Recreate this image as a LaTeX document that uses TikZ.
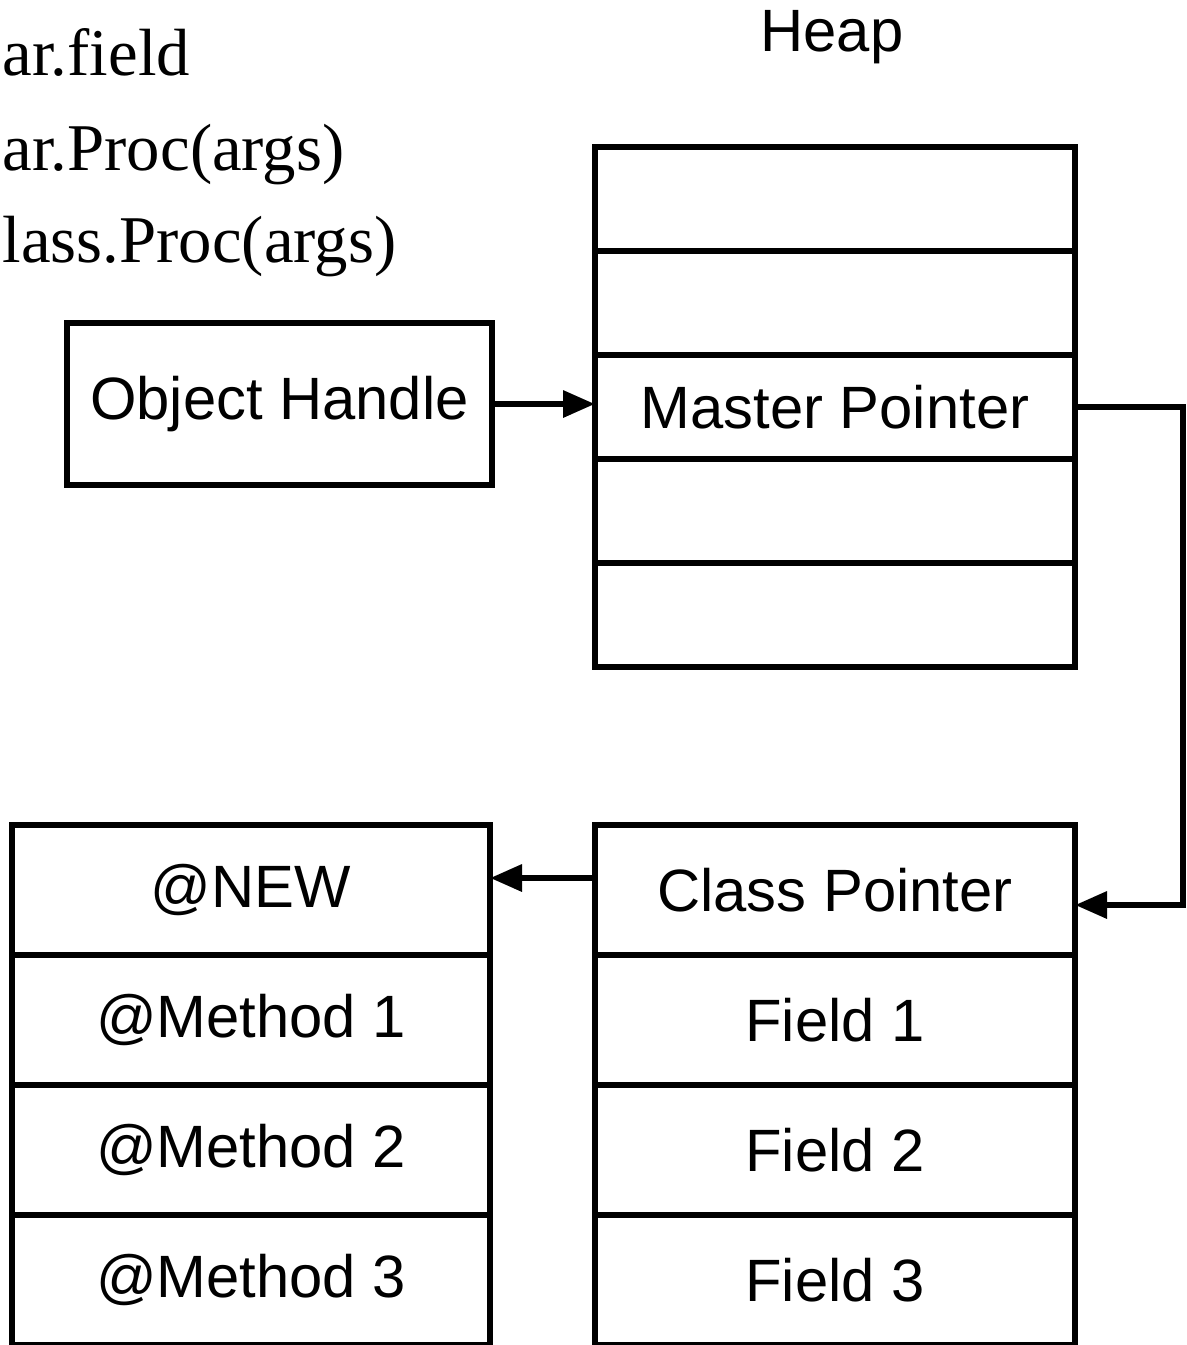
\documentclass[tikz,border=0pt]{standalone}
\usepackage{fontspec}
\setmainfont{Liberation Serif}
\newfontfamily\boxfont{Liberation Sans}
\usetikzlibrary{positioning,arrows.meta}

\tikzset{
  cell/.style={draw, line width=1.8pt, outer sep=0pt, minimum width=4.8cm, minimum height=1.04cm, font=\boxfont\fontsize{17}{20}\selectfont},
  tallcell/.style={cell, minimum height=1.3cm},
  ptr/.style={line width=1.8pt, -{Triangle[length=0.32cm,width=0.26cm]}},
  code/.style={anchor=base west, inner sep=0pt, font=\fontsize{19}{22}\selectfont}
}

\begin{document}
\begin{tikzpicture}
\useasboundingbox (0,0) rectangle (11.86,-13.45);
% source lines
\node[code] (c1) at (0.02,-0.75) {ar.field};
\node[code] (c2) at (0.02,-1.70) {ar.Proc(args)};
\node[code] (c3) at (0.02,-2.62) {lass.Proc(args)};
\node[font=\boxfont\fontsize{17}{20}\selectfont] (heap) at (8.32,-0.37) {Heap};
% heap blocks
\node[cell] (h1) at (8.35,-1.99) {};
\node[cell, below=0pt of h1] (h2) {};
\node[cell, below=0pt of h2] (mp) {Master Pointer};
\node[cell, below=0pt of mp] (h4) {};
\node[cell, below=0pt of h4] (h5) {};
\node[cell, minimum width=4.25cm, minimum height=1.62cm] (oh) at (2.795,-4.04) {Object Handle};
% object
\node[tallcell] (cp) at (8.35,-8.9) {Class Pointer};
\node[tallcell, below=0pt of cp] (f1) {Field 1};
\node[tallcell, below=0pt of f1] (f2) {Field 2};
\node[tallcell, below=0pt of f2] (f3) {Field 3};
% method table
\node[tallcell, minimum width=4.78cm] (new) at (2.51,-8.9) {@NEW};
\node[tallcell, minimum width=4.78cm, below=0pt of new] (m1) {@Method 1};
\node[tallcell, minimum width=4.78cm, below=0pt of m1] (m2) {@Method 2};
\node[tallcell, minimum width=4.78cm, below=0pt of m2] (m3) {@Method 3};
% pointers
\draw[ptr] (oh.east) -- (oh.east -| mp.west);
\draw[ptr] (mp.east) -- ++(1.08,0) |- ([yshift=-0.15cm]cp.east);
\draw[ptr] ([yshift=0.12cm]cp.west) -- ([yshift=0.12cm]cp.west -| new.east);
\end{tikzpicture}
\end{document}
